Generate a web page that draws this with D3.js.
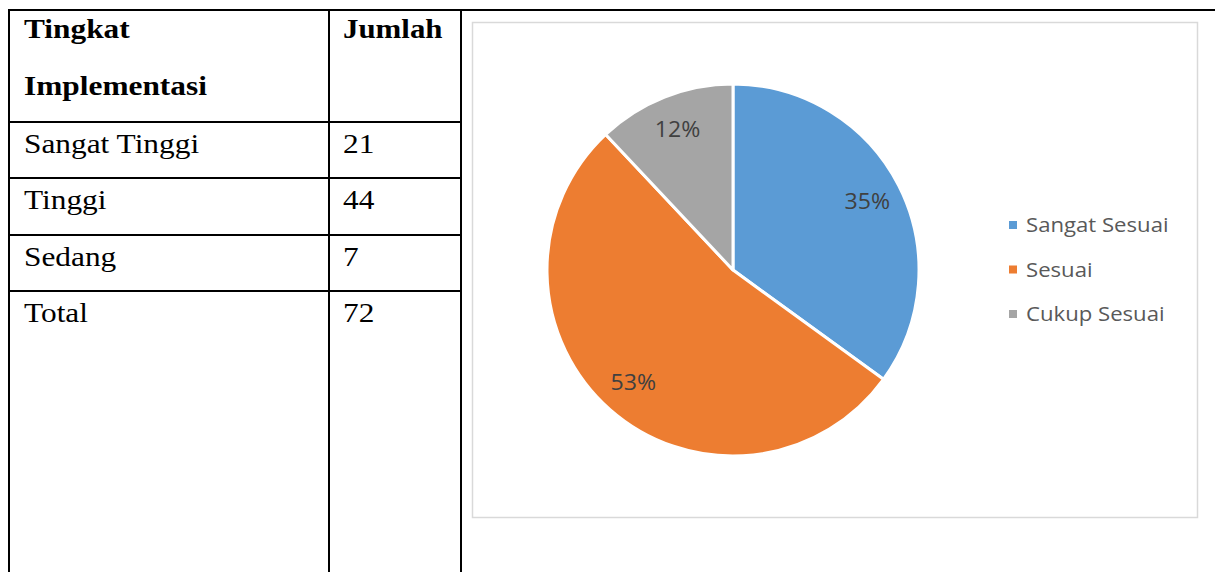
<!DOCTYPE html>
<html lang="id">
    <head>
        <meta charset="utf-8">
        <title>Tingkat Implementasi</title>
        <script type="text/javascript" src="https://d3js.org/d3.v7.min.js"></script>
        <style type="text/css">
            body { margin: 0; background: #ffffff; }
        </style>
    </head>
    <body>
        <script type="text/javascript">

        // table data
        const headerLeft = ["Tingkat", "Implementasi"];
        const headerRight = "Jumlah";
        const rowLabels = ["Sangat Tinggi", "Tinggi", "Sedang", "Total"];
        const rowCounts = [21, 44, 7, 72];

        // pie data
        const categories = ["Sangat Sesuai", "Sesuai", "Cukup Sesuai"];
        const percentValues = [35, 53, 12];
        const colors = ["#5b9bd5", "#ed7d31", "#a5a5a5"];

        const width = 1215;
        const height = 572;
        const stretch = 1.12; // text in the picture is a bit wider than tall

        const svg = d3.select("body")
                    .append("svg")
                    .attr("width", width)
                    .attr("height", height);

        // table grid
        const grid = svg.append("g")
            .attr("stroke", "#000")
            .attr("stroke-width", 2);

        grid.append("line").attr("x1", 8).attr("x2", width).attr("y1", 10).attr("y2", 10);
        [9, 329, 461].forEach(x => {
            grid.append("line").attr("x1", x).attr("x2", x).attr("y1", 9).attr("y2", height);
        });
        [122, 178, 235, 291].forEach(y => {
            grid.append("line").attr("x1", 8).attr("x2", 462).attr("y1", y).attr("y2", y);
        });

        const serif = "'Liberation Serif', 'Times New Roman', serif";
        const at = (x, y, s) => "translate(" + x + "," + y + ") scale(" + s + ",1)";

        //header
        svg.selectAll("text.hdr")
            .data(headerLeft)
            .enter()
            .append("text")
            .attr("class", "hdr")
            .attr("transform", (d, i) => at(24, 38 + i * 57, stretch))
            .style("font-family", serif)
            .style("font-weight", "bold")
            .style("font-size", "28px")
            .text(d => d);

        svg.append("text")
            .attr("transform", at(343, 38, stretch * 0.985))
            .style("font-family", serif)
            .style("font-weight", "bold")
            .style("font-size", "28px")
            .text(headerRight);

        // rows
        const rowY = d3.scalePoint()
            .domain(rowLabels)
            .range([153, 322]);

        svg.selectAll("text.lbl")
            .data(rowLabels)
            .enter()
            .append("text")
            .attr("class", "lbl")
            .attr("transform", d => at(24, rowY(d), stretch))
            .style("font-family", serif)
            .style("font-size", "28px")
            .text(d => d);

        svg.selectAll("text.cnt")
            .data(rowCounts)
            .enter()
            .append("text")
            .attr("class", "cnt")
            .attr("transform", (d, i) => at(343, rowY(rowLabels[i]), stretch))
            .style("font-family", serif)
            .style("font-size", "28px")
            .text(d => d);

        // chart frame
        svg.append("rect")
            .attr("x", 472.5)
            .attr("y", 22.5)
            .attr("width", 725)
            .attr("height", 495)
            .attr("fill", "#fff")
            .attr("stroke", "#d9d9d9")
            .attr("stroke-width", 1.5);

        const cx = 733, cy = 270, radius = 186;

        const pie = d3.pie().sort(null).value(d => d.value);
        const arc = d3.arc().innerRadius(0).outerRadius(radius);
        const labelArc = d3.arc().innerRadius(radius * 0.81).outerRadius(radius * 0.81);

        const slices = pie(categories.map((c, i) => ({ name: c, value: percentValues[i] })));

        const pieG = svg.append("g").attr("transform", "translate(" + cx + "," + cy + ")");

        pieG.selectAll("path")
            .data(slices)
            .enter()
            .append("path")
            .attr("d", arc)
            .attr("fill", (d, i) => colors[i])
            .attr("stroke", "#fff")
            .attr("stroke-width", 3)
            .attr("stroke-linejoin", "round");

        pieG.selectAll("text")
            .data(slices)
            .enter()
            .append("text")
            .attr("transform", d => {
                const c = labelArc.centroid(d);
                return at(c[0], c[1], 1.1);
            })
            .attr("text-anchor", "middle")
            .attr("dy", "0.35em")
            .style("font-family", "'Open Sans', sans-serif")
            .style("font-size", "21px")
            .style("fill", "#404040")
            .text(d => d.data.value + "%");

        // legend
        const legend = svg.append("g")
            .selectAll("g")
            .data(categories)
            .enter()
            .append("g")
            .attr("transform", (d, i) => "translate(1009," + (225 + i * 44.5) + ")");

        legend.append("rect")
            .attr("x", 0)
            .attr("y", -4)
            .attr("width", 8)
            .attr("height", 8)
            .attr("fill", (d, i) => colors[i]);

        legend.append("text")
            .attr("transform", at(17, 0, 1.08))
            .attr("dy", "0.35em")
            .style("font-family", "'Open Sans', sans-serif")
            .style("font-size", "20.5px")
            .style("fill", "#595959")
            .text(d => d);

        </script>
    </body>
</html>
